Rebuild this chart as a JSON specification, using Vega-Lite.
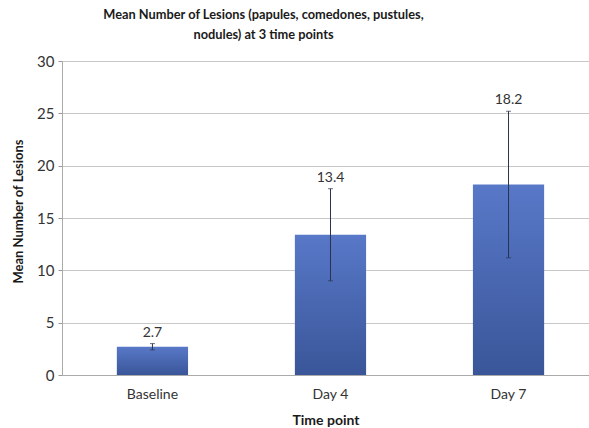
{
  "$schema": "https://vega.github.io/schema/vega-lite/v6.json",
  "width": 527,
  "height": 314,
  "autosize": {"type": "none"},
  "padding": {"left": 62, "top": 61, "right": 0, "bottom": 53},
  "background": "white",
  "title": {
    "text": ["Mean Number of Lesions (papules, comedones, pustules,", "nodules) at 3 time points"],
    "font": "Lato",
    "fontSize": 12.8,
    "fontWeight": "bold",
    "color": "#1a1a1a",
    "anchor": "middle",
    "dx": -62,
    "offset": 12,
    "lineHeight": 20
  },
  "config": {"view": {"stroke": null}, "font": "Lato"},
  "data": {
    "values": [
      {"time": "Baseline", "mean": 2.7, "lower": 2.4, "upper": 3.0},
      {"time": "Day 4", "mean": 13.4, "lower": 9.0, "upper": 17.8},
      {"time": "Day 7", "mean": 18.2, "lower": 11.2, "upper": 25.2}
    ]
  },
  "encoding": {
    "x": {
      "field": "time",
      "type": "nominal",
      "sort": null,
      "scale": {"paddingInner": 0.6, "paddingOuter": 0.28, "align": 0.55},
      "axis": {
        "title": "Time point",
        "titleFont": "Lato",
        "titleFontSize": 14,
        "titleFontWeight": "bold",
        "titleColor": "#1a1a1a",
        "titlePadding": 12,
        "labelAngle": 0,
        "labelFontSize": 14,
        "labelColor": "#333333",
        "labelPadding": 12,
        "ticks": false,
        "domainColor": "#aaaaaa",
        "grid": false
      }
    }
  },
  "layer": [
    {
      "mark": {
        "type": "bar",
        "color": {
          "gradient": "linear",
          "x1": 0, "y1": 0, "x2": 0, "y2": 1,
          "stops": [
            {"offset": 0, "color": "#5878c8"},
            {"offset": 1, "color": "#3a5699"}
          ]
        }
      },
      "encoding": {
        "y": {
          "field": "mean",
          "type": "quantitative",
          "scale": {"domain": [0, 30]},
          "axis": {
            "values": [0, 5, 10, 15, 20, 25, 30],
            "title": "Mean Number of Lesions",
            "titleFont": "Lato",
            "titleFontSize": 13,
            "titleFontWeight": "bold",
            "titleColor": "#1a1a1a",
            "titleX": -44,
            "titleY": 150,
            "titleAngle": -90,
            "titleBaseline": "middle",
            "titleAlign": "center",
            "labelFontSize": 15,
            "labelColor": "#333333",
            "labelPadding": 4,
            "tickSize": 4,
            "tickColor": "#999999",
            "domainColor": "#aaaaaa",
            "grid": true,
            "gridColor": "#c8c8c8"
          }
        }
      }
    },
    {
      "mark": {"type": "rule", "color": "#2a3350", "strokeWidth": 1},
      "encoding": {
        "y": {"field": "lower", "type": "quantitative"},
        "y2": {"field": "upper"}
      }
    },
    {
      "mark": {"type": "tick", "color": "#2a3350", "size": 5, "thickness": 1},
      "encoding": {"y": {"field": "lower", "type": "quantitative"}}
    },
    {
      "mark": {"type": "tick", "color": "#2a3350", "size": 5, "thickness": 1},
      "encoding": {"y": {"field": "upper", "type": "quantitative"}}
    },
    {
      "mark": {"type": "text", "baseline": "bottom", "dy": -4, "fontSize": 14, "color": "#333333", "font": "Lato"},
      "encoding": {
        "y": {"field": "upper", "type": "quantitative"},
        "text": {"field": "mean", "type": "quantitative", "format": ".1f"}
      }
    }
  ]
}
